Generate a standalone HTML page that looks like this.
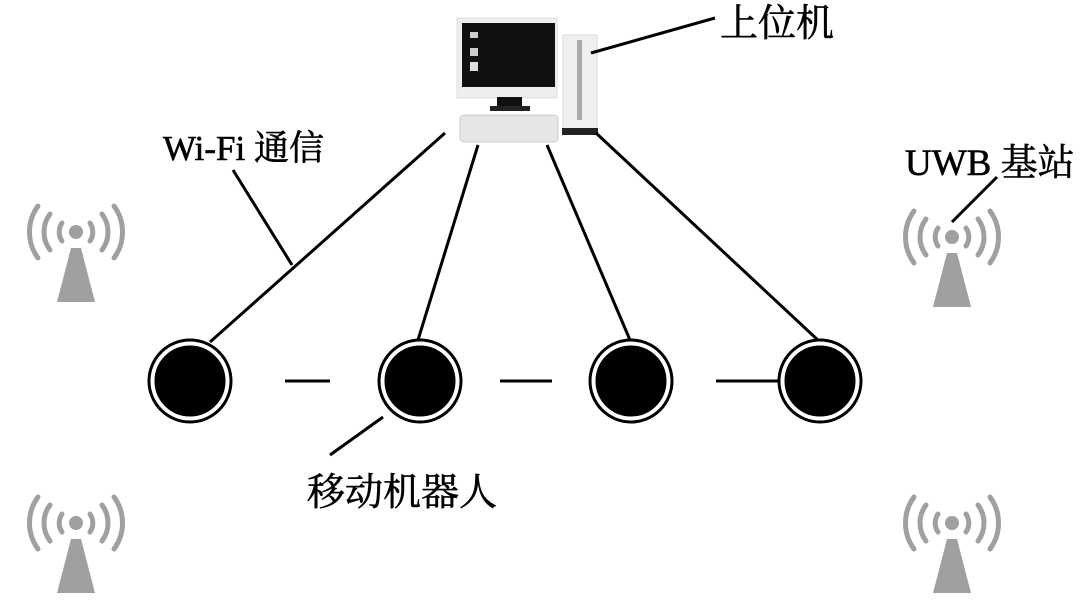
<!DOCTYPE html>
<html><head><meta charset="utf-8"><style>
body{margin:0;background:#fff;width:1080px;height:607px;overflow:hidden}
svg{display:block}
text{font-family:"Liberation Serif","Noto Serif CJK SC",serif;fill:#000}
</style></head><body>
<svg width="1080" height="607" viewBox="0 0 1080 607">
<defs>
<g id="ant" fill="none" stroke="#a0a0a0" stroke-linecap="round">
<circle cx="0" cy="0" r="7" fill="#a0a0a0" stroke="none"/>
<path d="M-14,-9 A16,16 0 0 0 -14,9 M14,-9 A16,16 0 0 1 14,9" stroke-width="5"/>
<path d="M-26,-18 A30,30 0 0 0 -26,18 M26,-18 A30,30 0 0 1 26,18" stroke-width="5"/>
<path d="M-38,-26 A44,44 0 0 0 -38,26 M38,-26 A44,44 0 0 1 38,26" stroke-width="5"/>
<polygon points="-5,16 5,16 19,70 -19,70" fill="#a0a0a0" stroke="none"/>
</g>
</defs>
<use href="#ant" x="76" y="232"/>
<use href="#ant" x="952" y="237"/>
<use href="#ant" x="76" y="523"/>
<use href="#ant" x="952" y="523"/>
<rect x="457" y="18" width="100" height="80" fill="#eee" stroke="#ddd"/>
<rect x="462" y="23" width="93" height="64" fill="#111"/>
<rect x="470" y="32" width="8" height="6" fill="#ccc"/>
<rect x="470" y="48" width="8" height="8" fill="#ccc"/>
<rect x="470" y="62" width="8" height="9" fill="#ddd"/>
<rect x="497" y="97" width="25" height="10" fill="#111"/>
<rect x="490" y="106" width="40" height="5" fill="#222"/>
<rect x="460" y="115" width="98" height="27" rx="4" fill="#e6e6e6" stroke="#ccc"/>
<rect x="563" y="35" width="34" height="95" fill="#f0f0f0" stroke="#ddd"/>
<rect x="577" y="40" width="5" height="80" fill="#aaa"/>
<rect x="562" y="128" width="36" height="7" fill="#222"/>
<g stroke="#000" stroke-width="3" fill="none">
<line x1="445" y1="133" x2="210" y2="342"/>
<line x1="478" y1="145" x2="418" y2="340"/>
<line x1="547" y1="145" x2="630" y2="340"/>
<line x1="596" y1="133" x2="820" y2="342"/>
<line x1="285" y1="381" x2="330" y2="381"/>
<line x1="500" y1="381" x2="552" y2="381"/>
<line x1="716" y1="381" x2="778" y2="381"/>
<line x1="233" y1="170" x2="292" y2="265"/>
<line x1="591" y1="53" x2="715" y2="18"/>
<line x1="997" y1="177" x2="952" y2="222"/>
<line x1="383" y1="417" x2="330" y2="455"/>
</g>
<g stroke="#000" stroke-width="3">
<circle cx="190" cy="381" r="41" fill="#fff"/><circle cx="190" cy="381" r="34" fill="#000"/>
<circle cx="420" cy="381" r="41" fill="#fff"/><circle cx="420" cy="381" r="34" fill="#000"/>
<circle cx="631" cy="381" r="41" fill="#fff"/><circle cx="631" cy="381" r="34" fill="#000"/>
<circle cx="820" cy="381" r="41" fill="#fff"/><circle cx="820" cy="381" r="34" fill="#000"/>
</g>
<text x="720" y="36" font-size="38" stroke="#000" stroke-width="0.6">上位机</text>
<text x="163" y="160" font-size="35" stroke="#000" stroke-width="0.6">Wi-Fi 通信</text>
<text x="905" y="175" font-size="37" stroke="#000" stroke-width="0.6">UWB 基站</text>
<text x="307" y="505" font-size="38" stroke="#000" stroke-width="0.6">移动机器人</text>
</svg>
</body></html>
